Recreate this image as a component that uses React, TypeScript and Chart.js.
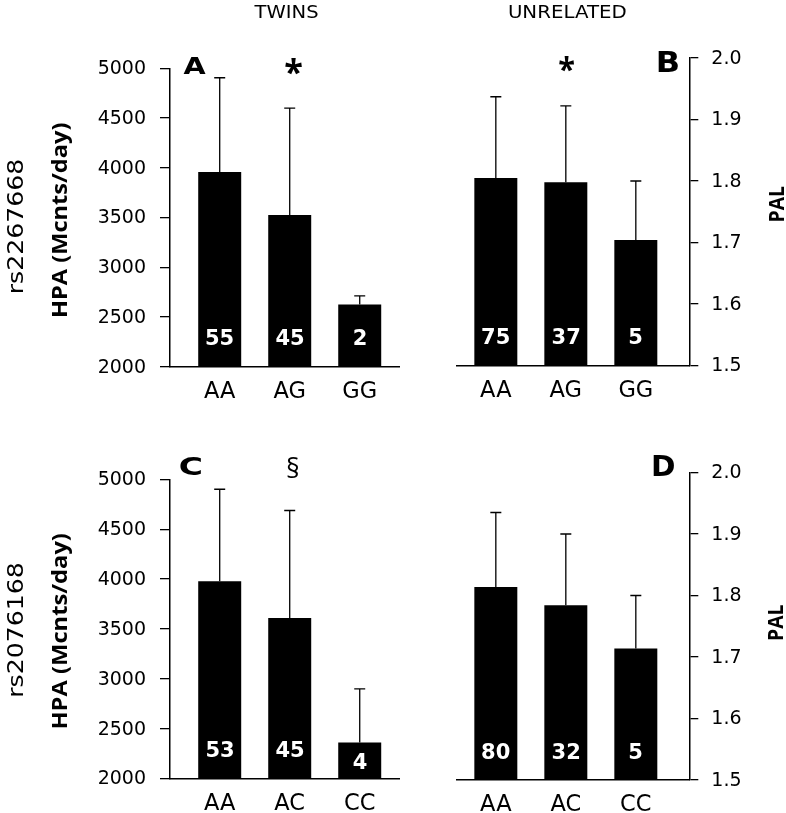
import React, { useEffect, useRef } from "react";
import { Chart, registerables } from "chart.js";

Chart.register(...registerables);

// ---------------- data ----------------
const genotypesRs2267668 = ["AA", "AG", "GG"];
const genotypesRs2076168 = ["AA", "AC", "CC"];
const genotypePositions = [1, 2, 3];

const hpaTwinsRs2267668 = [3957, 3525, 2625];
const hpaTwinsRs2267668Upper = [4905, 4600, 2712];
const nTwinsRs2267668 = [55, 45, 2];

const palUnrelatedRs2267668 = [1.805, 1.798, 1.704];
const palUnrelatedRs2267668Upper = [1.937, 1.922, 1.8];
const nUnrelatedRs2267668 = [75, 37, 5];

const hpaTwinsRs2076168 = [3977, 3610, 2362];
const hpaTwinsRs2076168Upper = [4900, 4687, 2898];
const nTwinsRs2076168 = [53, 45, 4];

const palUnrelatedRs2076168 = [1.814, 1.784, 1.714];
const palUnrelatedRs2076168Upper = [1.935, 1.9, 1.8];
const nUnrelatedRs2076168 = [80, 32, 5];

const hpaTicks = [2000, 2500, 3000, 3500, 4000, 4500, 5000];
const palTicks = [1.5, 1.6, 1.7, 1.8, 1.9, 2.0];

// ---------------- helpers ----------------
const SANS = '"Open Sans", "Noto Sans", sans-serif';
const WIDE = '"DejaVu Sans", sans-serif';

type Note = {
  text: string;
  x: number;
  y: number;
  h?: number;
  size?: number;
  w?: number;
  weight?: string;
  family?: string;
  rot?: number;
  color?: string;
};

function drawNote(ctx: CanvasRenderingContext2D, n: Note, ox: number, oy: number) {
  const family = n.family || SANS;
  const weight = n.weight || "normal";
  ctx.save();
  let size = n.size || 20;
  if (n.h) {
    ctx.font = `${weight} 100px ${family}`;
    const m0 = ctx.measureText(n.text);
    const h100 = m0.actualBoundingBoxAscent + m0.actualBoundingBoxDescent;
    if (h100 > 0) size = (100 * n.h) / h100;
  }
  ctx.font = `${weight} ${size}px ${family}`;
  const m = ctx.measureText(n.text);
  const inkW = m.actualBoundingBoxLeft + m.actualBoundingBoxRight;
  const sx = n.w && inkW > 0 ? n.w / inkW : 1;
  ctx.translate(n.x - ox, n.y - oy);
  if (n.rot) ctx.rotate((n.rot * Math.PI) / 180);
  ctx.scale(sx, 1);
  ctx.fillStyle = n.color || "#000";
  ctx.textAlign = "left";
  ctx.textBaseline = "alphabetic";
  const dx = -(m.actualBoundingBoxRight - m.actualBoundingBoxLeft) / 2;
  const dy = (m.actualBoundingBoxAscent - m.actualBoundingBoxDescent) / 2;
  ctx.fillText(n.text, dx, dy);
  ctx.restore();
}

type PanelSpec = {
  labels: string[];
  values: number[];
  upper: number[];
  counts: number[];
  yMin: number;
  yMax: number;
  yTicks: number[];
  decimals: number;
  side: "left" | "right";
  xMin: number;
  xMax: number;
  box: { left: number; top: number; width: number; height: number };
  area: { left: number; right: number; top: number; bottom: number };
  notes: Note[];
};

function Panel({ spec }: { spec: PanelSpec }) {
  const ref = useRef<HTMLCanvasElement>(null);
  useEffect(() => {
    const canvas = ref.current!;
    let chart: Chart | null = null;
    let cancelled = false;
    const { box, area } = spec;
    const padTop = area.top - box.top;
    const yAxisWidth =
      spec.side === "left" ? area.left - box.left : box.left + box.width - area.right;
    const padLeft = spec.side === "left" ? 0 : area.left - box.left;
    const padRight = spec.side === "left" ? box.left + box.width - area.right : 0;
    const xAxisHeight = box.top + box.height - area.bottom;

    const extras = {
      id: "extras",
      afterDatasetsDraw(c: any) {
        const ctx = c.ctx as CanvasRenderingContext2D;
        const xs = c.scales.x;
        const ys = c.scales.y;
        genotypePositions.forEach((pos, i) => {
          const x = xs.getPixelForValue(pos);
          const top = ys.getPixelForValue(spec.values[i]);
          const base = ys.getPixelForValue(spec.yMin);
          const errY = ys.getPixelForValue(spec.upper[i]);
          ctx.save();
          ctx.strokeStyle = "#000";
          ctx.lineWidth = 1.3;
          ctx.beginPath();
          ctx.moveTo(x, top);
          ctx.lineTo(x, errY);
          ctx.moveTo(x - 5.5, errY);
          ctx.lineTo(x + 5.5, errY);
          ctx.stroke();
          ctx.restore();
          const cy = Math.max(base - 29.5, top + 19);
          drawNote(
            ctx,
            {
              text: String(spec.counts[i]),
              x,
              y: cy,
              size: 21,
              weight: "bold",
              family: WIDE,
              color: "#ffffff",
            },
            0,
            0
          );
        });
      },
      afterDraw(c: any) {
        spec.notes.forEach((n) => drawNote(c.ctx, n, box.left, box.top));
      },
    };

    const build = () => {
      if (cancelled) return;
      chart = new Chart(canvas, {
        type: "bar",
        data: {
          datasets: [
            {
              data: genotypePositions.map((x, i) => ({ x, y: spec.values[i] })),
              backgroundColor: "#000",
              borderWidth: 0,
              barPercentage: 0.614,
              categoryPercentage: 1,
            },
          ],
        },
        options: {
          animation: false,
          responsive: false,
          maintainAspectRatio: false,
          events: [],
          layout: { padding: { top: padTop, left: padLeft, right: padRight, bottom: 0 } },
          plugins: {
            legend: { display: false },
            tooltip: { enabled: false },
            title: { display: false },
          },
          scales: {
            x: {
              type: "linear",
              min: spec.xMin,
              max: spec.xMax,
              offset: false,
              afterBuildTicks: (s: any) => {
                s.ticks = genotypePositions.map((v) => ({ value: v }));
              },
              afterFit: (s: any) => {
                s.height = xAxisHeight;
              },
              ticks: {
                callback: (v: any) => spec.labels[genotypePositions.indexOf(Number(v))] ?? "",
                font: { family: WIDE, size: 22.5 },
                color: "#000",
                padding: 12,
                maxRotation: 0,
                autoSkip: false,
              },
              grid: {
                display: true,
                drawOnChartArea: false,
                drawTicks: false,
                offset: false,
                color: "#000",
              },
              border: { display: true, color: "#000", width: 1.5 },
            },
            y: {
              type: "linear",
              position: spec.side,
              min: spec.yMin,
              max: spec.yMax,
              afterBuildTicks: (s: any) => {
                s.ticks = spec.yTicks.map((v) => ({ value: v }));
              },
              afterFit: (s: any) => {
                s.width = yAxisWidth;
              },
              ticks: {
                callback: (v: any) => Number(v).toFixed(spec.decimals),
                font: { family: WIDE, size: 19 },
                color: "#000",
                padding: spec.side === "left" ? 14 : 13,
                labelOffset: 1,
              },
              grid: {
                display: true,
                drawOnChartArea: false,
                drawTicks: true,
                tickLength: spec.side === "left" ? 10 : 9,
                color: "#000",
                lineWidth: 1.3,
              },
              border: { display: true, color: "#000", width: 1.5 },
            },
          },
        } as any,
        plugins: [extras as any],
      });
    };

    const fontsApi = (document as any).fonts;
    if (fontsApi && fontsApi.load) {
      Promise.all([
        fontsApi.load('20px "Open Sans"'),
        fontsApi.load('bold 20px "Open Sans"'),
        fontsApi.load('20px "DejaVu Sans"'),
        fontsApi.load('bold 20px "DejaVu Sans"'),
      ])
        .catch(() => null)
        .then(build);
    } else {
      build();
    }
    return () => {
      cancelled = true;
      if (chart) chart.destroy();
    };
  }, [spec]);

  return (
    <canvas
      ref={ref}
      width={spec.box.width}
      height={spec.box.height}
      style={{
        position: "absolute",
        left: spec.box.left,
        top: spec.box.top,
        width: spec.box.width,
        height: spec.box.height,
      }}
    />
  );
}

const panels: PanelSpec[] = [
  {
    labels: genotypesRs2267668,
    values: hpaTwinsRs2267668,
    upper: hpaTwinsRs2267668Upper,
    counts: nTwinsRs2267668,
    yMin: 2000,
    yMax: 5000,
    yTicks: hpaTicks,
    decimals: 0,
    side: "left",
    xMin: 0.29,
    xMax: 3.561,
    box: { left: 0, top: 0, width: 400, height: 405 },
    area: { left: 170, right: 399, top: 68.3, bottom: 366.7 },
    notes: [
      { text: "TWINS", x: 286, y: 11.7, h: 13.3, w: 65, family: WIDE },
      { text: "rs2267668", x: 14.5, y: 226.5, h: 15.5, w: 133, rot: -90, family: WIDE },
      { text: "HPA (Mcnts/day)", x: 61, y: 220, h: 22, w: 194, rot: -90, weight: "bold" },
      { text: "A", x: 195, y: 65, h: 17.5, w: 23, weight: "bold", family: WIDE },
      { text: "*", x: 293.5, y: 66.7, h: 16.7, w: 16.7, weight: "bold" },
    ],
  },
  {
    labels: genotypesRs2267668,
    values: palUnrelatedRs2267668,
    upper: palUnrelatedRs2267668Upper,
    counts: nUnrelatedRs2267668,
    yMin: 1.5,
    yMax: 2.0,
    yTicks: palTicks,
    decimals: 1,
    side: "right",
    xMin: 0.441,
    xMax: 3.764,
    box: { left: 400, top: 0, width: 386, height: 405 },
    area: { left: 456.7, right: 689.3, top: 58, bottom: 365.5 },
    notes: [
      { text: "UNRELATED", x: 567.5, y: 11.7, h: 13.3, w: 117, family: WIDE },
      { text: "B", x: 668, y: 61.5, h: 21, w: 20, weight: "bold", family: WIDE },
      { text: "*", x: 566.6, y: 64.3, h: 15, w: 16.7, weight: "bold" },
      { text: "PAL", x: 776, y: 204, h: 16, w: 35, rot: -90, weight: "bold" },
    ],
  },
  {
    labels: genotypesRs2076168,
    values: hpaTwinsRs2076168,
    upper: hpaTwinsRs2076168Upper,
    counts: nTwinsRs2076168,
    yMin: 2000,
    yMax: 5000,
    yTicks: hpaTicks,
    decimals: 0,
    side: "left",
    xMin: 0.29,
    xMax: 3.561,
    box: { left: 0, top: 410, width: 400, height: 403 },
    area: { left: 170, right: 399, top: 479.3, bottom: 778.5 },
    notes: [
      { text: "rs2076168", x: 14.5, y: 630, h: 15.5, w: 133, rot: -90, family: WIDE },
      { text: "HPA (Mcnts/day)", x: 61, y: 631, h: 22, w: 195, rot: -90, weight: "bold" },
      { text: "C", x: 191, y: 466, h: 18.5, w: 21.7, weight: "bold", family: WIDE },
      { text: "§", x: 292.5, y: 467.5, h: 21, w: 11 },
    ],
  },
  {
    labels: genotypesRs2076168,
    values: palUnrelatedRs2076168,
    upper: palUnrelatedRs2076168Upper,
    counts: nUnrelatedRs2076168,
    yMin: 1.5,
    yMax: 2.0,
    yTicks: palTicks,
    decimals: 1,
    side: "right",
    xMin: 0.441,
    xMax: 3.764,
    box: { left: 400, top: 410, width: 386, height: 403 },
    area: { left: 456.7, right: 689.3, top: 472.5, bottom: 780 },
    notes: [
      { text: "D", x: 663.5, y: 465.5, h: 20.5, w: 21, weight: "bold", family: WIDE },
      { text: "PAL", x: 775, y: 622.5, h: 16, w: 35, rot: -90, weight: "bold" },
    ],
  },
];

export default function App() {
  return (
    <div
      style={{
        position: "fixed",
        left: 0,
        top: 0,
        width: 786,
        height: 813,
        background: "#fff",
        overflow: "hidden",
      }}
    >
      {panels.map((p, i) => (
        <Panel key={i} spec={p} />
      ))}
    </div>
  );
}
